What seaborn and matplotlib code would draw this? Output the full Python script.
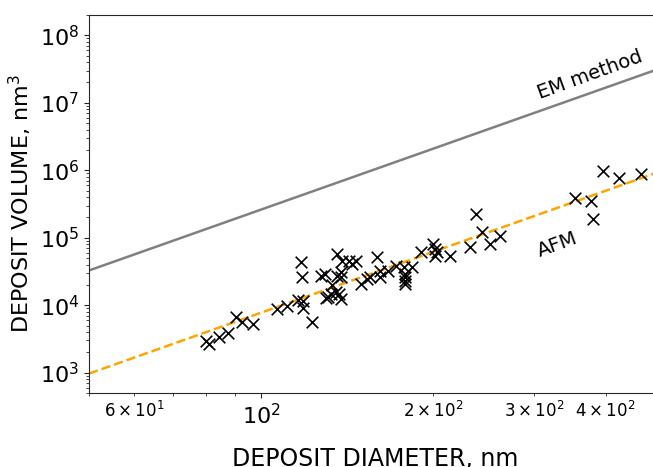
import matplotlib
matplotlib.use("Agg")
import numpy as np
import pandas as pd
import seaborn as sns
import matplotlib.pyplot as plt
from matplotlib.ticker import FuncFormatter

# measured deposits (diameter nm, volume nm^3)
diameter = [80.1, 81.1, 84.4, 87.5, 90.4, 92.6, 96.8, 106.7, 111.1, 116.1,
            117.5, 118.0, 118.5, 118.5, 122.8, 127.4, 129.5, 130.0, 131.0, 135.3,
            135.9, 135.9, 138.7, 138.1, 138.1, 142.6, 146.7, 144.3, 133.1, 132.6,
            137.0, 138.1, 149.7, 153.3, 155.2, 159.7, 161.0, 161.0, 166.3, 172.3,
            178.0, 178.7, 178.7, 178.7, 178.7, 183.8, 190.6, 199.3, 200.9, 200.9,
            203.3, 213.4, 231.3, 237.0, 242.8, 250.8, 261.1, 353.3, 377.0, 380.0,
            395.6, 422.0, 461.0]
volume = [2.98e3, 2.69e3, 3.42e3, 3.91e3, 6.75e3, 5.70e3, 5.32e3, 8.87e3, 9.83e3, 1.21e4,
          4.41e4, 2.64e4, 1.17e4, 9.18e3, 5.70e3, 2.74e4, 2.93e4, 1.29e4, 1.34e4, 1.58e4,
          5.79e4, 2.74e4, 4.56e4, 3.13e4, 2.64e4, 4.56e4, 4.56e4, 4.12e4, 2.01e4, 1.48e4,
          1.48e4, 1.25e4, 2.08e4, 2.47e4, 2.64e4, 5.23e4, 3.24e4, 2.64e4, 3.24e4, 3.85e4,
          3.72e4, 2.93e4, 2.64e4, 2.31e4, 2.08e4, 3.72e4, 6.20e4, 8.15e4, 6.87e4, 5.41e4,
          6.20e4, 5.41e4, 7.36e4, 2.27e5, 1.23e5, 8.15e4, 1.07e5, 3.91e5, 3.53e5, 1.91e5,
          9.83e5, 7.74e5, 8.87e5]

# model lines, end points
line_x = [50, 500]
em_y = [3.27e4, 3.27e7]
afm_y = [9.7e2, 9.7e5]

pts = pd.DataFrame({"d": diameter, "v": volume})
lines = pd.DataFrame({"d": line_x * 2, "v": em_y + afm_y,
                      "kind": ["EM"] * 2 + ["AFM"] * 2})

sns.set_style("ticks")
fig = plt.figure(figsize=(6.53, 4.67), dpi=100)
ax = fig.add_axes([0.1363, 0.1585, 0.876, 0.8094])

sns.lineplot(data=lines[lines.kind == "EM"], x="d", y="v", color="gray",
             linewidth=1.8, ax=ax)
sns.lineplot(data=lines[lines.kind == "AFM"], x="d", y="v", color="orange",
             linewidth=1.8, linestyle="--", dashes=(4, 2), ax=ax)
sns.scatterplot(data=pts, x="d", y="v", marker="x", color="black", s=70,
                linewidth=1.2, ax=ax, zorder=3)

ax.set_xscale("log")
ax.set_yscale("log")
ax.set_xlim(50, 500)
ax.set_ylim(500, 2e8)

ax.spines["right"].set_visible(False)
ax.spines["top"].set_visible(True)

def minor_fmt(val, pos):
    for m, e in [(6, 1), (2, 2), (3, 2), (4, 2)]:
        if abs(val - m * 10 ** e) < 1e-6:
            return r"$%d\times10^{%d}$" % (m, e)
    return ""

ax.xaxis.set_minor_formatter(FuncFormatter(minor_fmt))
ax.tick_params(axis="both", which="major", labelsize=16, labelcolor="black")
ax.tick_params(axis="x", which="minor", labelsize=12, labelcolor="black")

ax.set_xlabel("DEPOSIT DIAMETER, nm", fontsize=17, labelpad=14, color="black")
ax.set_ylabel("DEPOSIT VOLUME, nm$^3$", fontsize=16, labelpad=4, color="black")

ax.text(375, 2.6e7, "EM method", fontsize=14, rotation=20,
        ha="center", va="center", color="black")
ax.text(330, 7.9e4, "AFM", fontsize=14, rotation=20,
        ha="center", va="center", color="black")

fig.savefig("out.png", dpi=100)
